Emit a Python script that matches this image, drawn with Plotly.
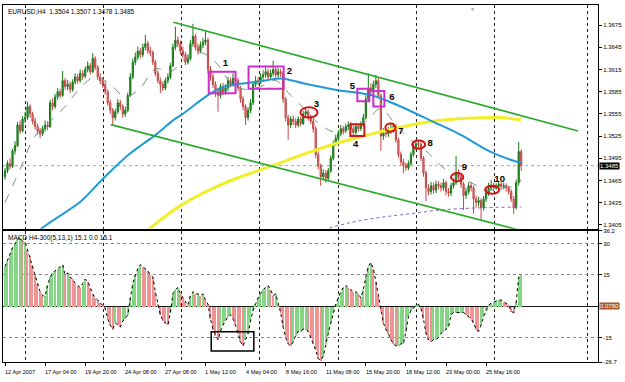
import plotly.graph_objects as go

# ---------------- data (EURUSD H4) ----------------
open_ = [1.3470,1.3478,1.3488,1.3484,1.3505,1.3512,1.3540,1.3532,1.3548,1.3550,
1.3565,1.3555,1.3545,1.3538,1.3532,1.3528,1.3535,1.3540,1.3538,1.3570,
1.3565,1.3578,1.3585,1.3580,1.3600,1.3592,1.3595,1.3588,1.3598,1.3605,
1.3600,1.3610,1.3606,1.3615,1.3620,1.3612,1.3630,1.3618,1.3605,1.3600,
1.3595,1.3585,1.3570,1.3560,1.3550,1.3558,1.3570,1.3565,1.3555,1.3560,
1.3580,1.3605,1.3625,1.3632,1.3640,1.3635,1.3645,1.3650,1.3640,1.3638,
1.3625,1.3610,1.3600,1.3595,1.3590,1.3600,1.3605,1.3620,1.3645,1.3655,
1.3650,1.3640,1.3635,1.3625,1.3630,1.3650,1.3660,1.3645,1.3640,1.3648,
1.3652,1.3655,1.3615,1.3605,1.3595,1.3585,1.3580,1.3592,1.3585,1.3590,
1.3600,1.3595,1.3603,1.3600,1.3590,1.3575,1.3565,1.3550,1.3560,1.3570,
1.3595,1.3600,1.3598,1.3605,1.3608,1.3612,1.3605,1.3610,1.3615,1.3608,
1.3612,1.3610,1.3575,1.3550,1.3540,1.3548,1.3545,1.3540,1.3548,1.3542,
1.3555,1.3558,1.3550,1.3545,1.3535,1.3500,1.3485,1.3470,1.3475,1.3468,
1.3478,1.3495,1.3515,1.3522,1.3528,1.3535,1.3532,1.3538,1.3540,1.3535,
1.3530,1.3538,1.3535,1.3540,1.3550,1.3575,1.3590,1.3585,1.3595,1.3600,
1.3580,1.3525,1.3530,1.3528,1.3532,1.3535,1.3538,1.3520,1.3500,1.3490,
1.3485,1.3482,1.3488,1.3500,1.3510,1.3515,1.3514,1.3495,1.3475,1.3455,
1.3450,1.3458,1.3452,1.3460,1.3458,1.3455,1.3462,1.3450,1.3448,1.3458,
1.3462,1.3475,1.3470,1.3460,1.3445,1.3450,1.3458,1.3455,1.3440,1.3435,
1.3438,1.3428,1.3440,1.3448,1.3455,1.3458,1.3455,1.3457,1.3460,1.3457,
1.3458,1.3455,1.3450,1.3440,1.3428,1.3462,1.3504]

high = [1.3482,1.3492,1.3495,1.3508,1.3518,1.3544,1.3546,1.3552,1.3558,1.3572,
1.3568,1.3558,1.3550,1.3542,1.3536,1.3539,1.3546,1.3545,1.3574,1.3576,
1.3582,1.3590,1.3589,1.3613,1.3604,1.3601,1.3599,1.3602,1.3610,1.3609,
1.3615,1.3614,1.3619,1.3626,1.3624,1.3637,1.3633,1.3621,1.3610,1.3604,
1.3599,1.3588,1.3574,1.3563,1.3562,1.3575,1.3574,1.3568,1.3565,1.3584,
1.3610,1.3630,1.3638,1.3646,1.3644,1.3650,1.3662,1.3654,1.3646,1.3641,
1.3628,1.3614,1.3604,1.3599,1.3604,1.3610,1.3624,1.3650,1.3673,1.3660,
1.3654,1.3646,1.3639,1.3636,1.3655,1.3677,1.3663,1.3650,1.3653,1.3658,
1.3668,1.3658,1.3620,1.3610,1.3599,1.3590,1.3596,1.3597,1.3595,1.3605,
1.3604,1.3610,1.3607,1.3604,1.3593,1.3579,1.3568,1.3564,1.3575,1.3599,
1.3606,1.3605,1.3610,1.3614,1.3618,1.3616,1.3615,1.3627,1.3619,1.3617,
1.3616,1.3613,1.3578,1.3554,1.3552,1.3553,1.3549,1.3552,1.3551,1.3559,
1.3563,1.3561,1.3554,1.3548,1.3538,1.3504,1.3488,1.3480,1.3479,1.3482,
1.3499,1.3519,1.3527,1.3533,1.3540,1.3539,1.3542,1.3545,1.3544,1.3539,
1.3542,1.3541,1.3545,1.3555,1.3580,1.3610,1.3596,1.3600,1.3608,1.3604,
1.3583,1.3536,1.3534,1.3537,1.3541,1.3543,1.3541,1.3523,1.3504,1.3494,
1.3489,1.3492,1.3504,1.3515,1.3520,1.3519,1.3517,1.3498,1.3478,1.3460,
1.3463,1.3462,1.3465,1.3464,1.3462,1.3467,1.3465,1.3455,1.3462,1.3468,
1.3498,1.3480,1.3474,1.3463,1.3455,1.3462,1.3463,1.3458,1.3444,1.3443,
1.3441,1.3444,1.3453,1.3462,1.3466,1.3462,1.3461,1.3464,1.3463,1.3462,
1.3461,1.3458,1.3453,1.3444,1.3466,1.3517,1.3507]

low = [1.3466,1.3475,1.3480,1.3482,1.3500,1.3510,1.3528,1.3530,1.3543,1.3547,
1.3550,1.3541,1.3534,1.3527,1.3522,1.3525,1.3531,1.3533,1.3536,1.3560,
1.3562,1.3574,1.3576,1.3578,1.3588,1.3587,1.3583,1.3585,1.3595,1.3596,
1.3597,1.3601,1.3603,1.3611,1.3608,1.3610,1.3614,1.3601,1.3595,1.3590,
1.3581,1.3566,1.3555,1.3540,1.3546,1.3555,1.3560,1.3550,1.3551,1.3557,
1.3578,1.3602,1.3621,1.3628,1.3630,1.3632,1.3641,1.3636,1.3633,1.3621,
1.3606,1.3596,1.3583,1.3586,1.3587,1.3596,1.3602,1.3618,1.3641,1.3645,
1.3636,1.3630,1.3621,1.3622,1.3627,1.3646,1.3641,1.3635,1.3637,1.3644,
1.3648,1.3610,1.3600,1.3590,1.3578,1.3558,1.3576,1.3580,1.3581,1.3586,
1.3591,1.3592,1.3595,1.3586,1.3570,1.3560,1.3540,1.3546,1.3556,1.3567,
1.3591,1.3594,1.3595,1.3601,1.3604,1.3601,1.3601,1.3606,1.3604,1.3604,
1.3605,1.3570,1.3545,1.3520,1.3536,1.3540,1.3536,1.3537,1.3538,1.3540,
1.3550,1.3546,1.3541,1.3530,1.3495,1.3480,1.3458,1.3465,1.3462,1.3464,
1.3475,1.3492,1.3512,1.3518,1.3525,1.3527,1.3529,1.3534,1.3531,1.3526,
1.3527,1.3531,1.3532,1.3537,1.3547,1.3572,1.3580,1.3581,1.3590,1.3576,
1.3505,1.3520,1.3523,1.3524,1.3528,1.3530,1.3516,1.3496,1.3486,1.3475,
1.3478,1.3479,1.3485,1.3497,1.3506,1.3508,1.3491,1.3470,1.3437,1.3445,
1.3446,1.3447,1.3448,1.3453,1.3450,1.3451,1.3445,1.3443,1.3444,1.3454,
1.3459,1.3465,1.3455,1.3425,1.3440,1.3446,1.3450,1.3420,1.3428,1.3430,
1.3412,1.3424,1.3436,1.3444,1.3451,1.3450,1.3452,1.3453,1.3452,1.3453,
1.3450,1.3446,1.3436,1.3420,1.3426,1.3458,1.3478]

close = [1.3478,1.3488,1.3484,1.3505,1.3512,1.3540,1.3532,1.3548,1.3550,1.3565,
1.3555,1.3545,1.3538,1.3532,1.3528,1.3535,1.3540,1.3538,1.3570,1.3565,
1.3578,1.3585,1.3580,1.3600,1.3592,1.3595,1.3588,1.3598,1.3605,1.3600,
1.3610,1.3606,1.3615,1.3620,1.3612,1.3630,1.3618,1.3605,1.3600,1.3595,
1.3585,1.3570,1.3560,1.3550,1.3558,1.3570,1.3565,1.3555,1.3560,1.3580,
1.3605,1.3625,1.3632,1.3640,1.3635,1.3645,1.3650,1.3640,1.3638,1.3625,
1.3610,1.3600,1.3595,1.3590,1.3600,1.3605,1.3620,1.3645,1.3655,1.3650,
1.3640,1.3635,1.3625,1.3630,1.3650,1.3660,1.3645,1.3640,1.3648,1.3652,
1.3655,1.3615,1.3605,1.3595,1.3585,1.3580,1.3592,1.3585,1.3590,1.3600,
1.3595,1.3603,1.3600,1.3590,1.3575,1.3565,1.3550,1.3560,1.3570,1.3595,
1.3600,1.3598,1.3605,1.3608,1.3612,1.3605,1.3610,1.3615,1.3608,1.3612,
1.3610,1.3575,1.3550,1.3540,1.3548,1.3545,1.3540,1.3548,1.3542,1.3555,
1.3558,1.3550,1.3545,1.3535,1.3500,1.3485,1.3470,1.3475,1.3468,1.3478,
1.3495,1.3515,1.3522,1.3528,1.3535,1.3532,1.3538,1.3540,1.3535,1.3530,
1.3538,1.3535,1.3540,1.3550,1.3575,1.3590,1.3585,1.3595,1.3600,1.3580,
1.3525,1.3530,1.3528,1.3532,1.3535,1.3538,1.3520,1.3500,1.3490,1.3485,
1.3482,1.3488,1.3500,1.3510,1.3515,1.3514,1.3495,1.3475,1.3455,1.3450,
1.3458,1.3452,1.3460,1.3458,1.3455,1.3462,1.3450,1.3448,1.3458,1.3462,
1.3475,1.3470,1.3460,1.3445,1.3450,1.3458,1.3455,1.3440,1.3435,1.3438,
1.3428,1.3440,1.3448,1.3455,1.3458,1.3455,1.3457,1.3460,1.3457,1.3458,
1.3455,1.3450,1.3440,1.3428,1.3462,1.3504,1.3485]

macd = [19,22,25,28,30,32,33,31,31,27,
24,20,15,11,7,5,5,10,14,16,
17,18,19,20,15,16,14,13,11,10,
9,11,13,12,9,6,4,3,1.5,0.5,
-1,-6,-9,-11,-8,-9,-10,-7,-6,-4,
4,11,15,18,20,19,18,17,15,14,
7,1,-4,-7,-8,-9,-3,6,8,9,
6,4,2,0.5,5,7,6,6,5,6,
3,1,-6,-11,-14,-16,-12,-9,-7,-5,
-4,-6,-9,-13,-17,-19,-16,-13,-7,-2,
1,4,6,8,9,10,8,5,6,1,
-3,-10,-15,-18,-19,-17,-14,-12,-12,-11,
-11,-12,-15,-18,-21,-25,-26,-24,-18,-13,
-8,-3,1,4,7,9,10,9,8,7,
7,6,4,8,14,19,21,18,12,5,
-2,-8,-11,-13,-16,-18,-19,-19,-18,-18,
-12,-5,-2,-1,0.5,1,-1,-6,-13,-16,
-17,-16,-16,-15,-13,-12,-11,-10,-4,-3,
-3,-3,-3,-3,-4,-5,-6,-8,-11,-12,
-9,-5,-2,0.5,1.5,2,2.5,3,3,2,
1.5,0.5,-2.5,-3,2,14,15.1]

time_labels = ["12 Apr 2007", "17 Apr 04:00", "19 Apr 20:00", "24 Apr 08:00", "27 Apr 08:00",
               "1 May 12:00", "4 May 04:00", "8 May 16:00", "11 May 08:00", "15 May 20:00",
               "18 May 12:00", "23 May 00:00", "25 May 16:00"]
time_label_bars = [0, 16, 32, 48, 64, 80, 96, 112, 128, 144, 160, 176, 192]

price_ticks = [1.3405, 1.3435, 1.3465, 1.3495, 1.3525, 1.3555, 1.3585, 1.3615, 1.3645, 1.3675]
macd_ticks = [36.2, 30, 15, -15, -26.7]

# moving averages (read at a few bars)
ma_blue_x = [6.4, 13.5, 30.3, 39, 49.4, 60.2, 67.3, 70.5, 81.3, 87.6, 102, 110, 119.5, 133, 146.6, 157.8, 170.5, 181.7, 193.6, 203.6, 206]
ma_blue_y = [1.3370, 1.3397, 1.3437, 1.3467, 1.3500, 1.3527, 1.3547, 1.3554, 1.3581, 1.3592, 1.3599, 1.3603, 1.3596, 1.3587, 1.3580, 1.3565, 1.3545, 1.3527, 1.3504, 1.3491, 1.3489]
ma_yellow_x = [46.2, 54.2, 62.2, 70.5, 82.1, 94, 106, 117.9, 133, 146.6, 157.8, 170.9, 184.5, 197.6, 206]
ma_yellow_y = [1.3368, 1.3390, 1.3412, 1.3432, 1.3453, 1.3470, 1.3484, 1.3499, 1.3516, 1.3528, 1.3537, 1.3545, 1.3549, 1.3550, 1.3547]
ma_purple_x = [125, 127.1, 137.8, 149.8, 161.8, 173.7, 189.6, 206]
ma_purple_y = [1.3395, 1.3398, 1.3408, 1.3415, 1.3420, 1.3425, 1.3428, 1.3429]
ma_dash_x = [0, 6, 12, 18, 24, 30, 36, 42, 48, 54, 60, 66, 72, 78, 84, 90, 96, 102, 108, 114, 120, 126,
             132, 138, 144, 150, 156, 162, 168, 174, 180, 186, 192, 198, 204, 206]
ma_dash_y = [1.3435, 1.3480, 1.3525, 1.3545, 1.3565, 1.3590, 1.3605, 1.3595, 1.3578, 1.3590, 1.3616, 1.3612,
             1.3630, 1.3638, 1.3625, 1.3598, 1.3588, 1.3592, 1.3600, 1.3580, 1.3560, 1.3540, 1.3530, 1.3535,
             1.3545, 1.3562, 1.3540, 1.3520, 1.3505, 1.3485, 1.3470, 1.3462, 1.3452, 1.3455, 1.3458, 1.3466]

# trend channel
chan_up_x = [67.2, 228.7]
chan_up_y = [1.3679, 1.3532]
chan_lo_x = [42.2, 206]
chan_lo_y = [1.35405, 1.33972]

# hand-drawn markups (bar index / price)
magenta_boxes = [(81.3, 92.0, 1.3583, 1.3612), (97.2, 111.2, 1.3589, 1.3619),
                 (140.6, 145.4, 1.3572, 1.3589), (147.0, 151.4, 1.3565, 1.3586)]
red_boxes = [(137.8, 143.4, 1.3525, 1.3541)]
red_ellipses = [(117.9, 124.7, 1.3550, 1.3564), (151.8, 155.8, 1.3531, 1.3542),
                (162.5, 167.7, 1.3508, 1.3519), (178.0, 182.9, 1.3464, 1.3475),
                (191.6, 197.2, 1.3447, 1.3458)]
mark_text = ["1", "2", "3", "4", "5", "6", "7", "8", "9", "10"]
mark_x = [88, 113.5, 124.3, 139.9, 138.6, 154.4, 158.0, 169.7, 183.3, 197.4]
mark_y = [1.3623, 1.3612, 1.3568, 1.3513, 1.3592, 1.3577, 1.3531, 1.3515, 1.3482, 1.3466]
macd_box = (82.3, 99.3, -21.4, -12.2)

# ---------------- figure ----------------
n = len(close)
bars = list(range(n))
FONT = "Liberation Sans, Arial, sans-serif"
XR = [-0.8, 236.65]
grid_bars = [8.2, 39.2, 70.5, 101.6, 133.1, 164.1, 195.4, 232.3]
TOP_DOM = [0.3733, 1.0]
BOT_DOM = [0.0, 0.3677]

fig = go.Figure()

fig.add_trace(go.Candlestick(
    x=bars, open=open_, high=high, low=low, close=close, xaxis="x", yaxis="y",
    increasing=dict(line=dict(color="#1a7a1a", width=1), fillcolor="#2a8c2a"),
    decreasing=dict(line=dict(color="#c24646", width=1), fillcolor="#e48888"),
    whiskerwidth=0, showlegend=False, hoverinfo="skip"))

fig.add_trace(go.Scatter(x=ma_dash_x, y=ma_dash_y, mode="lines", xaxis="x", yaxis="y",
                         line=dict(color="#7d8f7d", width=1, dash="dash", shape="spline"), showlegend=False))
fig.add_trace(go.Scatter(x=ma_yellow_x, y=ma_yellow_y, mode="lines", xaxis="x", yaxis="y",
                         line=dict(color="#f2ee2a", width=3, shape="spline"), showlegend=False))
fig.add_trace(go.Scatter(x=ma_blue_x, y=ma_blue_y, mode="lines", xaxis="x", yaxis="y",
                         line=dict(color="#1f9ad6", width=2, shape="spline"), showlegend=False))
fig.add_trace(go.Scatter(x=ma_purple_x, y=ma_purple_y, mode="lines", xaxis="x", yaxis="y",
                         line=dict(color="#8a5cc8", width=1, dash="dot", shape="spline"), showlegend=False))
fig.add_trace(go.Scatter(x=chan_up_x, y=chan_up_y, mode="lines", xaxis="x", yaxis="y",
                         line=dict(color="#2aaa2a", width=1.6), showlegend=False))
fig.add_trace(go.Scatter(x=chan_lo_x, y=chan_lo_y, mode="lines", xaxis="x", yaxis="y",
                         line=dict(color="#2aaa2a", width=1.6), showlegend=False))

fig.add_trace(go.Scatter(x=mark_x, y=mark_y, mode="text", text=[f"<b>{t}</b>" for t in mark_text],
                         xaxis="x", yaxis="y",
                         textfont=dict(family=FONT, size=9.5, color="black"), showlegend=False))

hist_colors = ["#84d584" if i == 0 or macd[i] >= macd[i - 1] else "#ee9494" for i in range(n)]
fig.add_trace(go.Bar(x=bars, y=macd, xaxis="x2", yaxis="y2", width=0.5,
                     marker=dict(color=hist_colors, line=dict(width=0)), showlegend=False))
fig.add_trace(go.Scatter(x=bars, y=macd, mode="lines", xaxis="x2", yaxis="y2",
                         line=dict(color="black", width=1, dash="dot"), showlegend=False))

shapes = []
# bid line
shapes.append(dict(type="line", xref="x domain", yref="y", x0=0, x1=1, y0=close[-1], y1=close[-1],
                   line=dict(color="#a8a8a8", width=1, dash="dot"), layer="below"))
for x0, x1, y0, y1 in magenta_boxes:
    shapes.append(dict(type="rect", xref="x", yref="y", x0=x0, x1=x1, y0=y0, y1=y1,
                       line=dict(color="#cc2ecc", width=2)))
for x0, x1, y0, y1 in red_boxes:
    shapes.append(dict(type="rect", xref="x", yref="y", x0=x0, x1=x1, y0=y0, y1=y1,
                       line=dict(color="#cc1a1a", width=2)))
for x0, x1, y0, y1 in red_ellipses:
    shapes.append(dict(type="circle", xref="x", yref="y", x0=x0, x1=x1, y0=y0, y1=y1,
                       line=dict(color="#d01414", width=2)))
shapes.append(dict(type="rect", xref="x2", yref="y2", x0=macd_box[0], x1=macd_box[1],
                   y0=macd_box[2], y1=macd_box[3], line=dict(color="black", width=1.5)))

annotations = []
annotations.append(dict(xref="paper", yref="paper", x=0, y=1, xshift=3, yshift=-1,
                        xanchor="left", yanchor="top", showarrow=False,
                        text=f"EURUSD,H4  {open_[-1]:.4f} {high[-1]:.4f} {low[-1]:.4f} {close[-1]:.4f}",
                        font=dict(family=FONT, size=6.5, color="black")))
annotations.append(dict(xref="paper", yref="paper", x=0, y=BOT_DOM[1], xshift=3, yshift=-1,
                        xanchor="left", yanchor="top", showarrow=False,
                        text=f"MACD H4-300(5,13,1) {macd[-1]:.1f} 0.0 {macd[-1]:.1f}",
                        font=dict(family=FONT, size=6.5, color="black")))
for lb, tx in zip(time_label_bars, time_labels):
    annotations.append(dict(xref="x2", yref="paper", x=lb, y=0, xshift=-2, yshift=-5,
                            xanchor="left", yanchor="top", showarrow=False, text=tx,
                            font=dict(family=FONT, size=5.6, color="black")))
annotations.append(dict(xref="paper", yref="y", x=1, y=close[-1], xshift=1, xanchor="left",
                        showarrow=False, text=f"{close[-1]:.4f}", bgcolor="black", borderpad=0,
                        font=dict(family=FONT, size=6, color="white")))
annotations.append(dict(xref="paper", yref="y2", x=1, y=0, xshift=1, xanchor="left",
                        showarrow=False, text="0.0780", bgcolor="#a8552c", borderpad=0,
                        font=dict(family=FONT, size=6, color="white")))
annotations.append(dict(xref="paper", yref="paper", x=0.797, y=1, yanchor="top", yshift=1,
                        showarrow=False, text="▼", font=dict(size=5, color="#9a9a9a")))

axis_common = dict(showline=True, mirror=True, linecolor="black", linewidth=1, zeroline=False)

fig.update_layout(
    width=625, height=382, margin=dict(l=2, r=27, t=3, b=20),
    paper_bgcolor="white", plot_bgcolor="white", showlegend=False,
    font=dict(family=FONT, size=6, color="black"),
    bargap=0,
    xaxis=dict(domain=[0, 1], anchor="y", range=XR, tickmode="array", tickvals=grid_bars,
               showticklabels=False, ticks="", showgrid=True, gridcolor="#222", griddash="dot",
               gridwidth=1, rangeslider=dict(visible=False), **axis_common),
    yaxis=dict(domain=TOP_DOM, anchor="x", range=[1.33997, 1.37023], side="right",
               tickmode="array", tickvals=price_ticks, ticktext=[f"{v:.4f}" for v in price_ticks],
               ticks="outside", ticklen=3, tickcolor="black", showgrid=False,
               tickfont=dict(family=FONT, size=6, color="black"), **axis_common),
    xaxis2=dict(domain=[0, 1], anchor="y2", range=XR, tickmode="array", tickvals=grid_bars,
                showticklabels=False, ticks="", showgrid=True, gridcolor="#222", griddash="dot",
                gridwidth=1,
                minor=dict(tickmode="array", tickvals=time_label_bars, ticks="outside", ticklen=3,
                           tickcolor="black", showgrid=False),
                **axis_common),
    yaxis2=dict(domain=BOT_DOM, anchor="x2", range=[-26.7, 36.2], side="right",
                tickmode="array", tickvals=macd_ticks, ticktext=[str(v) for v in macd_ticks],
                ticks="outside", ticklen=3, tickcolor="black", showgrid=True, gridcolor="#8a8a8a",
                griddash="dot", gridwidth=1, tickfont=dict(family=FONT, size=6, color="black"),
                showline=True, mirror=True, linecolor="black", linewidth=1,
                zeroline=True, zerolinecolor="#1a1a1a", zerolinewidth=1),
    shapes=shapes, annotations=annotations,
)

fig.write_html("out.html")
